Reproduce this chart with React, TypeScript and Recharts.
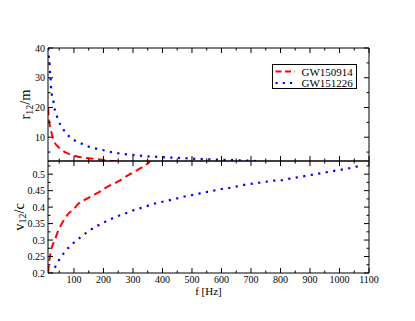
import { LineChart, Line, XAxis, YAxis, Legend, Label } from 'recharts';

const FONT = '"Liberation Serif", "DejaVu Serif", serif';

// r12/m (upper panel)
const rFreqA = [12.5, 15, 18, 22, 28, 36, 45, 55, 75, 100, 140, 180, 220, 250];
const rValA = [20, 16.5, 14, 12.2, 10, 8, 6.9, 6, 4.7, 3.8, 3.0, 2.6, 2.1, 1.8];
const rFreqB = [12.5, 15, 17, 18.6, 21, 22, 25, 31, 35, 43, 54, 67, 84, 107, 129, 154, 181, 206, 231, 256, 283, 306, 333, 360, 386, 412, 438, 463, 490, 516, 542, 568, 594, 620, 646, 672, 697, 720];
const rValB = [40, 37, 34.7, 32, 29.3, 27, 24.3, 21.7, 19.2, 16.8, 14.2, 12.2, 10.2, 8.7, 7.7, 6.7, 6.0, 5.5, 4.9, 4.5, 4.2, 4.0, 3.7, 3.5, 3.4, 3.2, 3.1, 3.0, 2.85, 2.7, 2.6, 2.55, 2.45, 2.35, 2.25, 2.2, 2.1, 1.95];

// v12/c (lower panel)
const vFreqA = [12.5, 15, 18.6, 24, 30, 36, 45, 53, 64, 81, 98, 115, 143, 165, 188, 210, 250, 284, 318, 352, 365];
const vValA = [0.2, 0.225, 0.249, 0.275, 0.29, 0.302, 0.325, 0.34, 0.358, 0.38, 0.393, 0.41, 0.425, 0.436, 0.447, 0.46, 0.478, 0.497, 0.514, 0.534, 0.545];
const vFreqB = [24, 28, 39, 52.5, 69, 86, 106, 126, 146, 169, 191, 214, 237, 262, 287, 310, 337, 363, 388, 414, 439, 465, 490, 516, 540, 567, 591, 618, 642, 668, 693, 719, 745, 770, 797, 823, 849, 874, 900, 925, 951, 976, 1002, 1028, 1052, 1078];
const vValB = [0.195, 0.202, 0.223, 0.244, 0.264, 0.281, 0.297, 0.311, 0.325, 0.338, 0.349, 0.359, 0.369, 0.377, 0.385, 0.393, 0.4, 0.408, 0.414, 0.419, 0.424, 0.43, 0.435, 0.439, 0.445, 0.448, 0.454, 0.457, 0.461, 0.466, 0.47, 0.473, 0.476, 0.48, 0.481, 0.485, 0.489, 0.493, 0.497, 0.501, 0.505, 0.509, 0.513, 0.517, 0.522, 0.526];

const fTicks = [50, 100, 150, 200, 250, 300, 350, 400, 450, 500, 550, 600, 650, 700, 750, 800, 850, 900, 950, 1000, 1050, 1100];
const rTicks = [5, 10, 15, 20, 25, 30, 35, 40];
const vTicks = [0.2, 0.225, 0.25, 0.275, 0.3, 0.325, 0.35, 0.375, 0.4, 0.425, 0.45, 0.475, 0.5, 0.525];

const seriesNames = ['GW150914', 'GW151226'];

const zip = (xs: number[], ys: number[]) => xs.map((f, i) => ({ f, y: ys[i] }));

const fMajor = (v: number) => v % 100 === 0;
const rMajor = (v: number) => v % 10 === 0;
const vMajor = (v: number) => Math.abs(v * 20 - Math.round(v * 20)) < 1e-6;

const RED = { stroke: '#ff0000', strokeWidth: 2, strokeDasharray: '7.5 4.5' };
const BLUE = { stroke: '#0000ff', strokeWidth: 2.2, strokeDasharray: '2.2 5.4' };

function XTick(props: any) {
  const { x, y, payload, dir, labels } = props;
  const major = fMajor(payload.value);
  const len = major ? 5 : 2.5;
  return (
    <g>
      <line x1={x} x2={x} y1={y} y2={y + dir * len} stroke="#000" />
      {labels && major && (
        <text x={x} y={y + 10} textAnchor="middle" fontFamily={FONT} fontSize={10} fill="#000">
          {payload.value}
        </text>
      )}
    </g>
  );
}

function YTick(props: any) {
  const { x, y, payload, dir, labels, isMajor } = props;
  const major = isMajor(payload.value);
  const len = major ? 5 : 2.5;
  return (
    <g>
      <line x1={x} x2={x + dir * len} y1={y} y2={y} stroke="#000" />
      {labels && major && (
        <text x={x - 3} y={y + 3.5} textAnchor="end" fontFamily={FONT} fontSize={10} fill="#000">
          {payload.value}
        </text>
      )}
    </g>
  );
}

function YTitle(props: any) {
  const { viewBox, main, sub, rest, dx } = props;
  const cx = viewBox.x + viewBox.width - dx;
  const cy = viewBox.y + viewBox.height / 2;
  return (
    <text x={cx} y={cy} transform={`rotate(-90 ${cx} ${cy})`} textAnchor="middle" dominantBaseline="central" fontFamily={FONT} fontSize={14.5} fill="#000">
      {main}
      <tspan dy={3.5} fontSize={10}>{sub}</tspan>
      <tspan dy={-3.5}>{rest}</tspan>
    </text>
  );
}

function XTitle(props: any) {
  const { viewBox } = props;
  return (
    <text x={viewBox.x + viewBox.width / 2} y={viewBox.y + 21.5} textAnchor="middle" fontFamily={FONT} fontSize={11} fill="#000">
      f [Hz]
    </text>
  );
}

function LegendBox(props: any) {
  const { payload } = props;
  return (
    <svg width={86} height={26} style={{ display: 'block' }}>
      <rect x={0.5} y={0.5} width={84} height={24} fill="#fff" stroke="#000" />
      {(payload || []).map((e: any, i: number) => {
        const cy = 7.5 + i * 11.5;
        const st = i === 0 ? RED : BLUE;
        return (
          <g key={i}>
            <line x1={3.5} x2={23} y1={cy} y2={cy} stroke={st.stroke} strokeWidth={st.strokeWidth} strokeDasharray={i === 0 ? '6 3.5' : '2.2 5'} />
            <text x={29.5} y={cy + 4} fontFamily={FONT} fontSize={11} fill="#000">{e.value}</text>
          </g>
        );
      })}
    </svg>
  );
}

const xCommon = {
  type: 'number' as const,
  dataKey: 'f',
  domain: [12, 1100],
  allowDataOverflow: true,
  ticks: fTicks,
  interval: 0,
  height: 1,
  tickSize: 0,
  tickMargin: 0,
  tickLine: false,
  axisLine: { stroke: '#000' },
};

const yCommon = {
  type: 'number' as const,
  allowDataOverflow: true,
  interval: 0,
  width: 1,
  tickSize: 0,
  tickMargin: 0,
  tickLine: false,
  axisLine: { stroke: '#000' },
};

export default function App() {
  return (
    <div style={{ position: 'absolute', left: 0, top: 0, width: 415, height: 321, background: '#fff' }}>
      <div style={{ position: 'absolute', left: 0, top: 0 }}>
        <LineChart width={415} height={162} margin={{ top: 47, right: 45, bottom: 0, left: 47 }}>
          <XAxis xAxisId="b" {...xCommon} tick={<XTick dir={-1} />} />
          <XAxis xAxisId="t" orientation="top" {...xCommon} tick={<XTick dir={1} />} />
          <YAxis yAxisId="l" {...yCommon} domain={[2, 40]} ticks={rTicks} tick={<YTick dir={1} labels isMajor={rMajor} />}>
            <Label content={<YTitle main="r" sub="12" rest="/m" dx={23} />} />
          </YAxis>
          <YAxis yAxisId="r" orientation="right" {...yCommon} domain={[2, 40]} ticks={rTicks} tick={<YTick dir={-1} isMajor={rMajor} />} />
          <Line xAxisId="b" yAxisId="l" name={seriesNames[0]} data={zip(rFreqA, rValA)} dataKey="y" type="monotone" dot={false} isAnimationActive={false} {...RED} />
          <Line xAxisId="b" yAxisId="l" name={seriesNames[1]} data={zip(rFreqB, rValB)} dataKey="y" type="monotone" dot={false} isAnimationActive={false} {...BLUE} />
          <Legend layout="vertical" align="center" verticalAlign="middle" content={<LegendBox />} wrapperStyle={{ left: 272, top: 64, width: 86, height: 26 }} />
        </LineChart>
      </div>
      <div style={{ position: 'absolute', left: 0, top: 160 }}>
        <LineChart width={415} height={161} margin={{ top: 0, right: 45, bottom: 47, left: 47 }}>
          <XAxis xAxisId="b" {...xCommon} tick={<XTick dir={-1} labels />}>
            <Label content={<XTitle />} />
          </XAxis>
          <XAxis xAxisId="t" orientation="top" {...xCommon} tick={<XTick dir={1} />} />
          <YAxis yAxisId="l" {...yCommon} domain={[0.2, 0.54]} ticks={vTicks} tick={<YTick dir={1} labels isMajor={vMajor} />}>
            <Label content={<YTitle main="v" sub="12" rest="/c" dx={29.5} />} />
          </YAxis>
          <YAxis yAxisId="r" orientation="right" {...yCommon} domain={[0.2, 0.54]} ticks={vTicks} tick={<YTick dir={-1} isMajor={vMajor} />} />
          <Line xAxisId="b" yAxisId="l" data={zip(vFreqA, vValA)} dataKey="y" type="monotone" dot={false} isAnimationActive={false} {...RED} />
          <Line xAxisId="b" yAxisId="l" data={zip(vFreqB, vValB)} dataKey="y" type="monotone" dot={false} isAnimationActive={false} {...BLUE} />
        </LineChart>
      </div>
    </div>
  );
}
